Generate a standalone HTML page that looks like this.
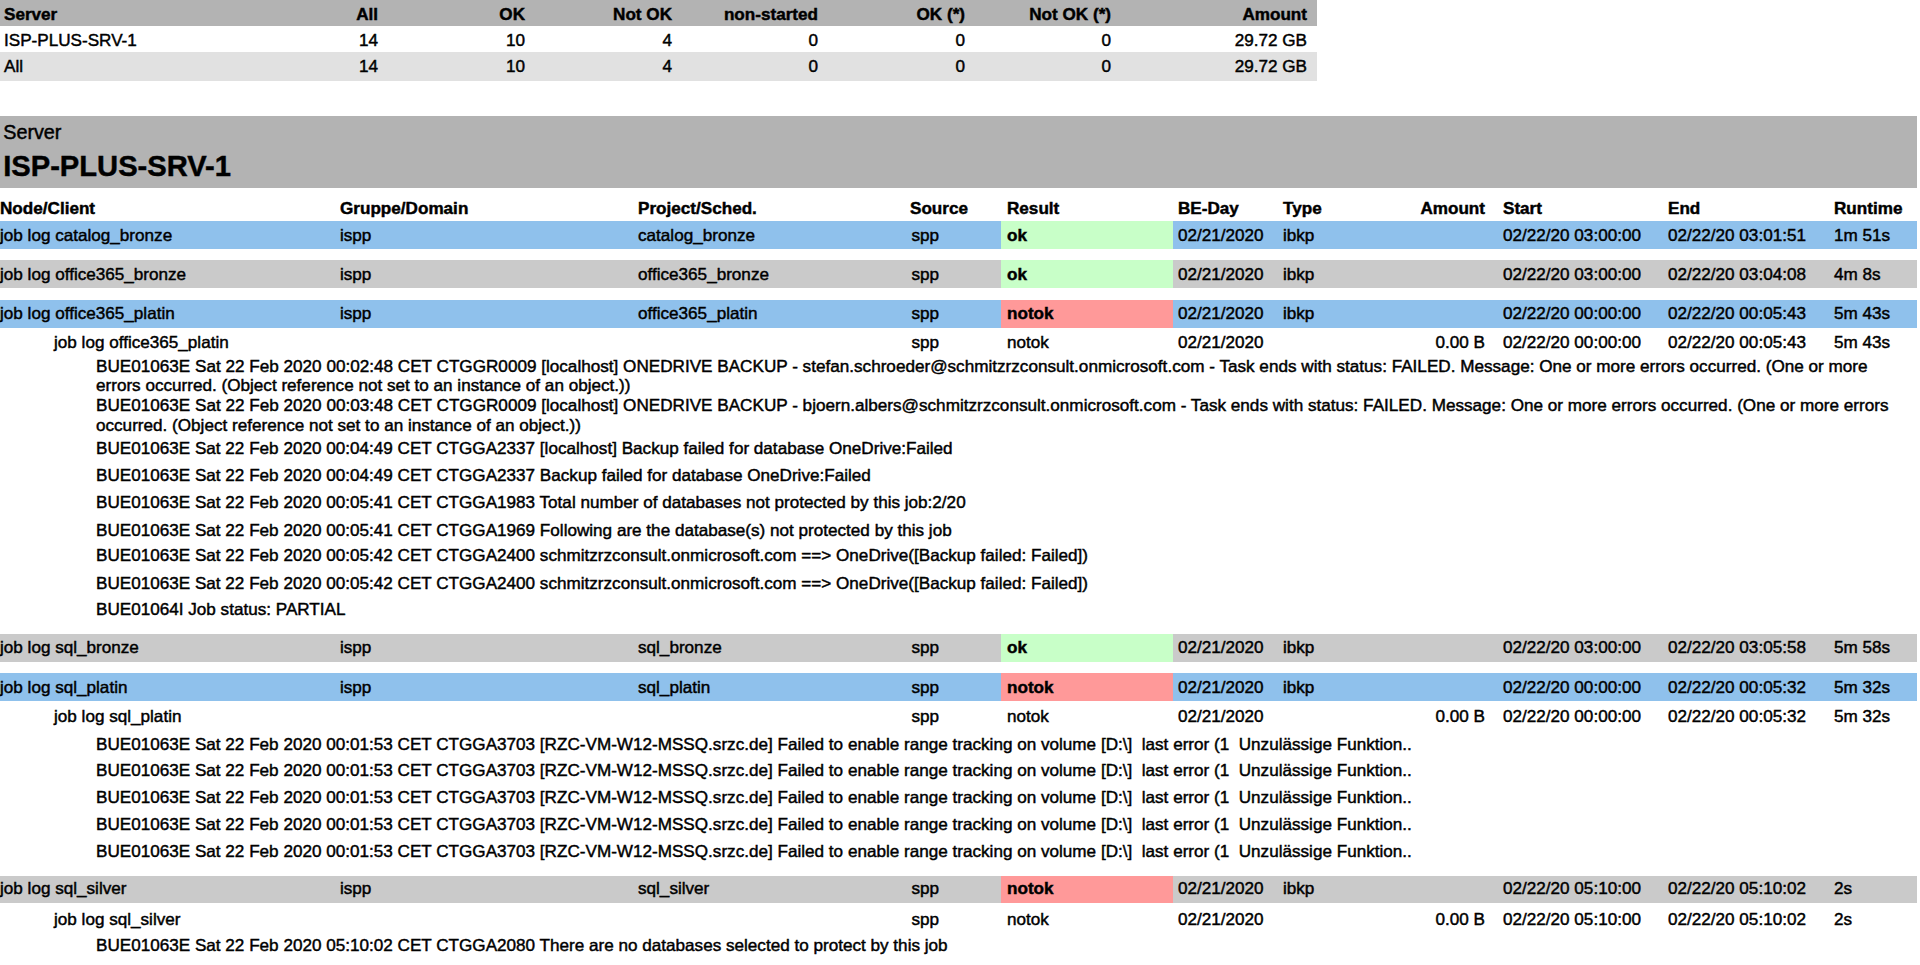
<!DOCTYPE html>
<html><head><meta charset="utf-8"><title>Report</title>
<style>
html,body{margin:0;padding:0;background:#fff;}
body{width:1920px;height:965px;position:relative;overflow:hidden;font-family:"Liberation Sans",sans-serif;font-size:17.13px;color:#000;}
.r{position:absolute;}
.t{position:absolute;white-space:pre;line-height:20px;-webkit-text-stroke:0.45px #000;}
.b{font-weight:bold;}
</style></head><body>
<div class="r" style="left:0px;top:0px;width:1317px;height:26px;background:#b3b3b3"></div>
<div class="r" style="left:0px;top:52px;width:1317px;height:28.5px;background:#e1e1e1"></div>
<div class="t b" style="top:4.76px;left:4.00px;">Server</div>
<div class="t b" style="top:4.76px;right:1542.00px;">All</div>
<div class="t b" style="top:4.76px;right:1395.00px;">OK</div>
<div class="t b" style="top:4.76px;right:1248.00px;">Not OK</div>
<div class="t b" style="top:4.76px;right:1102.00px;">non-started</div>
<div class="t b" style="top:4.76px;right:955.00px;">OK (*)</div>
<div class="t b" style="top:4.76px;right:809.00px;">Not OK (*)</div>
<div class="t b" style="top:4.76px;right:613.00px;">Amount</div>
<div class="t" style="top:30.66px;left:4.00px;">ISP-PLUS-SRV-1</div>
<div class="t" style="top:30.66px;right:1542.00px;">14</div>
<div class="t" style="top:30.66px;right:1395.00px;">10</div>
<div class="t" style="top:30.66px;right:1248.00px;">4</div>
<div class="t" style="top:30.66px;right:1102.00px;">0</div>
<div class="t" style="top:30.66px;right:955.00px;">0</div>
<div class="t" style="top:30.66px;right:809.00px;">0</div>
<div class="t" style="top:30.66px;right:613.00px;">29.72 GB</div>
<div class="t" style="top:56.66px;left:4.00px;">All</div>
<div class="t" style="top:56.66px;right:1542.00px;">14</div>
<div class="t" style="top:56.66px;right:1395.00px;">10</div>
<div class="t" style="top:56.66px;right:1248.00px;">4</div>
<div class="t" style="top:56.66px;right:1102.00px;">0</div>
<div class="t" style="top:56.66px;right:955.00px;">0</div>
<div class="t" style="top:56.66px;right:809.00px;">0</div>
<div class="t" style="top:56.66px;right:613.00px;">29.72 GB</div>
<div class="r" style="left:0px;top:116px;width:1917px;height:72px;background:#b3b3b3"></div>
<div class="t" style="top:121.84px;font-size:19.8px;left:3.20px;">Server</div>
<div class="t b" style="top:155.90px;font-size:29.15px;left:3.20px;">ISP-PLUS-SRV-1</div>
<div class="t b" style="top:199.06px;left:910.00px;">Source</div>
<div class="t b" style="top:199.06px;left:0.00px;">Node/Client</div>
<div class="t b" style="top:199.06px;left:340.00px;">Gruppe/Domain</div>
<div class="t b" style="top:199.06px;left:638.00px;">Project/Sched.</div>
<div class="t b" style="top:199.06px;left:1007.00px;">Result</div>
<div class="t b" style="top:199.06px;left:1178.00px;">BE-Day</div>
<div class="t b" style="top:199.06px;left:1283.00px;">Type</div>
<div class="t b" style="top:199.06px;left:1503.00px;">Start</div>
<div class="t b" style="top:199.06px;left:1668.00px;">End</div>
<div class="t b" style="top:199.06px;left:1834.00px;">Runtime</div>
<div class="t b" style="top:199.06px;right:435.00px;">Amount</div>
<div class="r" style="left:0px;top:221px;width:1917px;height:27.5px;background:#8fc1ec"></div>
<div class="r" style="left:1000.8px;top:221px;width:172.20000000000005px;height:27.5px;background:#c8ffc8"></div>
<div class="t" style="top:226.06px;left:0.00px;">job log catalog_bronze</div>
<div class="t" style="top:226.06px;left:340.00px;">ispp</div>
<div class="t" style="top:226.06px;left:638.00px;">catalog_bronze</div>
<div class="t" style="top:226.06px;left:911.50px;">spp</div>
<div class="t b" style="top:226.06px;left:1007.00px;">ok</div>
<div class="t" style="top:226.06px;left:1178.00px;">02/21/2020</div>
<div class="t" style="top:226.06px;left:1283.00px;">ibkp</div>
<div class="t" style="top:226.06px;left:1503.00px;">02/22/20 03:00:00</div>
<div class="t" style="top:226.06px;left:1668.00px;">02/22/20 03:01:51</div>
<div class="t" style="top:226.06px;left:1834.00px;">1m 51s</div>
<div class="r" style="left:0px;top:260px;width:1917px;height:27.5px;background:#cacaca"></div>
<div class="r" style="left:1000.8px;top:260px;width:172.20000000000005px;height:27.5px;background:#c8ffc8"></div>
<div class="t" style="top:264.56px;left:0.00px;">job log office365_bronze</div>
<div class="t" style="top:264.56px;left:340.00px;">ispp</div>
<div class="t" style="top:264.56px;left:638.00px;">office365_bronze</div>
<div class="t" style="top:264.56px;left:911.50px;">spp</div>
<div class="t b" style="top:264.56px;left:1007.00px;">ok</div>
<div class="t" style="top:264.56px;left:1178.00px;">02/21/2020</div>
<div class="t" style="top:264.56px;left:1283.00px;">ibkp</div>
<div class="t" style="top:264.56px;left:1503.00px;">02/22/20 03:00:00</div>
<div class="t" style="top:264.56px;left:1668.00px;">02/22/20 03:04:08</div>
<div class="t" style="top:264.56px;left:1834.00px;">4m 8s</div>
<div class="r" style="left:0px;top:300px;width:1917px;height:27.5px;background:#8fc1ec"></div>
<div class="r" style="left:1000.8px;top:300px;width:172.20000000000005px;height:27.5px;background:#ff9999"></div>
<div class="t" style="top:303.56px;left:0.00px;">job log office365_platin</div>
<div class="t" style="top:303.56px;left:340.00px;">ispp</div>
<div class="t" style="top:303.56px;left:638.00px;">office365_platin</div>
<div class="t" style="top:303.56px;left:911.50px;">spp</div>
<div class="t b" style="top:303.56px;left:1007.00px;">notok</div>
<div class="t" style="top:303.56px;left:1178.00px;">02/21/2020</div>
<div class="t" style="top:303.56px;left:1283.00px;">ibkp</div>
<div class="t" style="top:303.56px;left:1503.00px;">02/22/20 00:00:00</div>
<div class="t" style="top:303.56px;left:1668.00px;">02/22/20 00:05:43</div>
<div class="t" style="top:303.56px;left:1834.00px;">5m 43s</div>
<div class="t" style="top:332.86px;left:54.00px;">job log office365_platin</div>
<div class="t" style="top:332.86px;left:911.50px;">spp</div>
<div class="t" style="top:332.86px;left:1007.00px;">notok</div>
<div class="t" style="top:332.86px;left:1178.00px;">02/21/2020</div>
<div class="t" style="top:332.86px;right:435.00px;">0.00 B</div>
<div class="t" style="top:332.86px;left:1503.00px;">02/22/20 00:00:00</div>
<div class="t" style="top:332.86px;left:1668.00px;">02/22/20 00:05:43</div>
<div class="t" style="top:332.86px;left:1834.00px;">5m 43s</div>
<div class="t" style="top:356.36px;font-size:17.14px;left:96.00px;">BUE01063E Sat 22 Feb 2020 00:02:48 CET CTGGR0009 [localhost] ONEDRIVE BACKUP - stefan.schroeder@schmitzrzconsult.onmicrosoft.com - Task ends with status: FAILED. Message: One or more errors occurred. (One or more</div>
<div class="t" style="top:375.86px;left:96.00px;">errors occurred. (Object reference not set to an instance of an object.))</div>
<div class="t" style="top:395.26px;font-size:17.14px;left:96.00px;">BUE01063E Sat 22 Feb 2020 00:03:48 CET CTGGR0009 [localhost] ONEDRIVE BACKUP - bjoern.albers@schmitzrzconsult.onmicrosoft.com - Task ends with status: FAILED. Message: One or more errors occurred. (One or more errors</div>
<div class="t" style="top:415.56px;left:96.00px;">occurred. (Object reference not set to an instance of an object.))</div>
<div class="t" style="top:439.21px;left:96.00px;">BUE01063E Sat 22 Feb 2020 00:04:49 CET CTGGA2337 [localhost] Backup failed for database OneDrive:Failed</div>
<div class="t" style="top:465.66px;left:96.00px;">BUE01063E Sat 22 Feb 2020 00:04:49 CET CTGGA2337 Backup failed for database OneDrive:Failed</div>
<div class="t" style="top:493.06px;left:96.00px;">BUE01063E Sat 22 Feb 2020 00:05:41 CET CTGGA1983 Total number of databases not protected by this job:2/20</div>
<div class="t" style="top:520.56px;left:96.00px;">BUE01063E Sat 22 Feb 2020 00:05:41 CET CTGGA1969 Following are the database(s) not protected by this job</div>
<div class="t" style="top:546.46px;left:96.00px;">BUE01063E Sat 22 Feb 2020 00:05:42 CET CTGGA2400 schmitzrzconsult.onmicrosoft.com ==&gt; OneDrive([Backup failed: Failed])</div>
<div class="t" style="top:573.96px;left:96.00px;">BUE01063E Sat 22 Feb 2020 00:05:42 CET CTGGA2400 schmitzrzconsult.onmicrosoft.com ==&gt; OneDrive([Backup failed: Failed])</div>
<div class="t" style="top:600.36px;left:96.00px;">BUE01064I Job status: PARTIAL</div>
<div class="r" style="left:0px;top:634px;width:1917px;height:27.5px;background:#cacaca"></div>
<div class="r" style="left:1000.8px;top:634px;width:172.20000000000005px;height:27.5px;background:#c8ffc8"></div>
<div class="t" style="top:638.06px;left:0.00px;">job log sql_bronze</div>
<div class="t" style="top:638.06px;left:340.00px;">ispp</div>
<div class="t" style="top:638.06px;left:638.00px;">sql_bronze</div>
<div class="t" style="top:638.06px;left:911.50px;">spp</div>
<div class="t b" style="top:638.06px;left:1007.00px;">ok</div>
<div class="t" style="top:638.06px;left:1178.00px;">02/21/2020</div>
<div class="t" style="top:638.06px;left:1283.00px;">ibkp</div>
<div class="t" style="top:638.06px;left:1503.00px;">02/22/20 03:00:00</div>
<div class="t" style="top:638.06px;left:1668.00px;">02/22/20 03:05:58</div>
<div class="t" style="top:638.06px;left:1834.00px;">5m 58s</div>
<div class="r" style="left:0px;top:673px;width:1917px;height:27.5px;background:#8fc1ec"></div>
<div class="r" style="left:1000.8px;top:673px;width:172.20000000000005px;height:27.5px;background:#ff9999"></div>
<div class="t" style="top:678.06px;left:0.00px;">job log sql_platin</div>
<div class="t" style="top:678.06px;left:340.00px;">ispp</div>
<div class="t" style="top:678.06px;left:638.00px;">sql_platin</div>
<div class="t" style="top:678.06px;left:911.50px;">spp</div>
<div class="t b" style="top:678.06px;left:1007.00px;">notok</div>
<div class="t" style="top:678.06px;left:1178.00px;">02/21/2020</div>
<div class="t" style="top:678.06px;left:1283.00px;">ibkp</div>
<div class="t" style="top:678.06px;left:1503.00px;">02/22/20 00:00:00</div>
<div class="t" style="top:678.06px;left:1668.00px;">02/22/20 00:05:32</div>
<div class="t" style="top:678.06px;left:1834.00px;">5m 32s</div>
<div class="t" style="top:707.06px;left:54.00px;">job log sql_platin</div>
<div class="t" style="top:707.06px;left:911.50px;">spp</div>
<div class="t" style="top:707.06px;left:1007.00px;">notok</div>
<div class="t" style="top:707.06px;left:1178.00px;">02/21/2020</div>
<div class="t" style="top:707.06px;right:435.00px;">0.00 B</div>
<div class="t" style="top:707.06px;left:1503.00px;">02/22/20 00:00:00</div>
<div class="t" style="top:707.06px;left:1668.00px;">02/22/20 00:05:32</div>
<div class="t" style="top:707.06px;left:1834.00px;">5m 32s</div>
<div class="t" style="top:734.76px;left:96.00px;">BUE01063E Sat 22 Feb 2020 00:01:53 CET CTGGA3703 [RZC-VM-W12-MSSQ.srzc.de] Failed to enable range tracking on volume [D:\]  last error (1  Unzulässige Funktion..</div>
<div class="t" style="top:760.96px;left:96.00px;">BUE01063E Sat 22 Feb 2020 00:01:53 CET CTGGA3703 [RZC-VM-W12-MSSQ.srzc.de] Failed to enable range tracking on volume [D:\]  last error (1  Unzulässige Funktion..</div>
<div class="t" style="top:788.16px;left:96.00px;">BUE01063E Sat 22 Feb 2020 00:01:53 CET CTGGA3703 [RZC-VM-W12-MSSQ.srzc.de] Failed to enable range tracking on volume [D:\]  last error (1  Unzulässige Funktion..</div>
<div class="t" style="top:814.56px;left:96.00px;">BUE01063E Sat 22 Feb 2020 00:01:53 CET CTGGA3703 [RZC-VM-W12-MSSQ.srzc.de] Failed to enable range tracking on volume [D:\]  last error (1  Unzulässige Funktion..</div>
<div class="t" style="top:842.06px;left:96.00px;">BUE01063E Sat 22 Feb 2020 00:01:53 CET CTGGA3703 [RZC-VM-W12-MSSQ.srzc.de] Failed to enable range tracking on volume [D:\]  last error (1  Unzulässige Funktion..</div>
<div class="r" style="left:0px;top:875.6px;width:1917px;height:27.5px;background:#cacaca"></div>
<div class="r" style="left:1000.8px;top:875.6px;width:172.20000000000005px;height:27.5px;background:#ff9999"></div>
<div class="t" style="top:879.16px;left:0.00px;">job log sql_silver</div>
<div class="t" style="top:879.16px;left:340.00px;">ispp</div>
<div class="t" style="top:879.16px;left:638.00px;">sql_silver</div>
<div class="t" style="top:879.16px;left:911.50px;">spp</div>
<div class="t b" style="top:879.16px;left:1007.00px;">notok</div>
<div class="t" style="top:879.16px;left:1178.00px;">02/21/2020</div>
<div class="t" style="top:879.16px;left:1283.00px;">ibkp</div>
<div class="t" style="top:879.16px;left:1503.00px;">02/22/20 05:10:00</div>
<div class="t" style="top:879.16px;left:1668.00px;">02/22/20 05:10:02</div>
<div class="t" style="top:879.16px;left:1834.00px;">2s</div>
<div class="t" style="top:909.86px;left:54.00px;">job log sql_silver</div>
<div class="t" style="top:909.86px;left:911.50px;">spp</div>
<div class="t" style="top:909.86px;left:1007.00px;">notok</div>
<div class="t" style="top:909.86px;left:1178.00px;">02/21/2020</div>
<div class="t" style="top:909.86px;right:435.00px;">0.00 B</div>
<div class="t" style="top:909.86px;left:1503.00px;">02/22/20 05:10:00</div>
<div class="t" style="top:909.86px;left:1668.00px;">02/22/20 05:10:02</div>
<div class="t" style="top:909.86px;left:1834.00px;">2s</div>
<div class="t" style="top:935.96px;left:96.00px;">BUE01063E Sat 22 Feb 2020 05:10:02 CET CTGGA2080 There are no databases selected to protect by this job</div>
</body></html>
